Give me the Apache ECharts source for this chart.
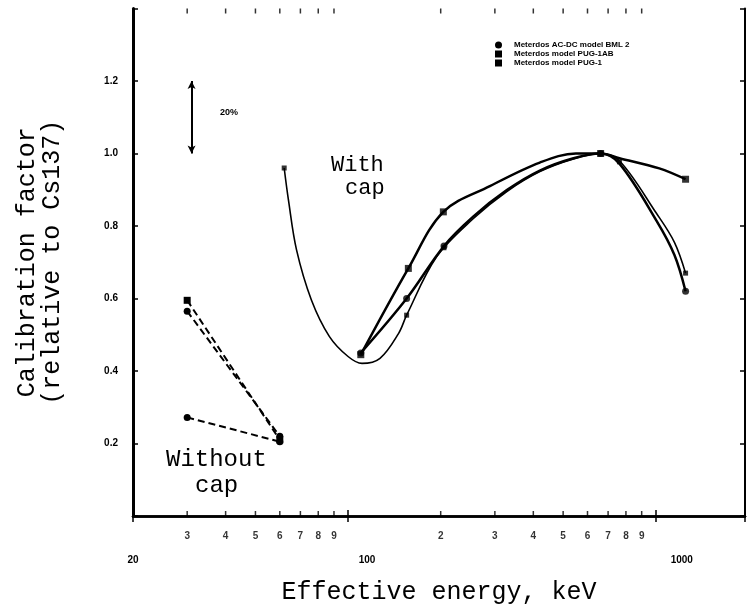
<!DOCTYPE html>
<html>
<head>
<meta charset="utf-8">
<script src="https://cdn.jsdelivr.net/npm/echarts@6/dist/echarts.min.js"></script>
<style>
html, body { margin: 0; padding: 0; background: #fff; }
#main { width: 748px; height: 610px; }
</style>
</head>
<body>
<div id="main"></div>
<script>
// energy (keV) / calibration factor pairs
var names = ['Meterdos AC-DC model BML 2', 'Meterdos model PUG-1AB', 'Meterdos model PUG-1'];

// with cap - measured points
var bmlPts = [[110, 0.45], [155, 0.60], [205, 0.745], [662, 1.0], [1250, 0.62]];
var pug1abPts = [[110, 0.445], [157, 0.683], [204, 0.839], [662, 1.0], [1250, 0.929]];
var pug1Pts = [[62, 0.96], [155, 0.554], [205, 0.74], [662, 1.0], [762, 0.977], [1250, 0.67]];

// with cap - drawn curves
var bmlCurve = [[110, 0.45], [155, 0.60], [205, 0.745], [255, 0.826], [328, 0.899], [420, 0.953],
	[540, 0.987], [662, 1.0], [762, 0.972], [1005, 0.815], [1150, 0.72], [1250, 0.62]];
var pug1abCurve = [[110, 0.445], [157, 0.683], [204, 0.839], [289, 0.91], [420, 0.975], [550, 1.0],
	[662, 1.0], [762, 0.987], [1027, 0.959], [1250, 0.929]];
var pug1Curve = [[62, 0.96], [64, 0.872], [68, 0.734], [76, 0.596], [87, 0.495], [100, 0.44], [111, 0.421],
	[127, 0.435], [146, 0.504], [155, 0.554], [194, 0.715], [255, 0.82], [328, 0.895], [420, 0.95],
	[540, 0.985], [662, 1.0], [762, 0.98], [1005, 0.835], [1150, 0.755], [1250, 0.67]];

// without cap
var bmlNoCap = [[30, 0.565], [60, 0.22]];
var pug1abNoCap = [[30, 0.595], [60, 0.21]];
var pug1NoCap = [[30, 0.272], [60, 0.205]];

// minor ticks of the log axis and their labels
var minorTicks = [30, 40, 50, 60, 70, 80, 90, 200, 300, 400, 500, 600, 700, 800, 900];
var minorLabels = ['3', '4', '5', '6', '7', '8', '9', '2', '3', '4', '5', '6', '7', '8', '9'];
var yTicks = [0.2, 0.4, 0.6, 0.8, 1.0, 1.2];

var chart = echarts.init(document.getElementById('main'));
var black = '#000';
var boldSmall = { color: black, fontSize: 10, fontWeight: 'bold', fontFamily: 'Liberation Sans' };
var mono = 'Liberation Mono';

function tickData(y) {
	return minorTicks.map(function (v, i) { return { value: [v, y], label: minorLabels[i] }; });
}

function curve(name, data, width) {
	return { name: name, type: 'line', data: data, smooth: 0.35, showSymbol: false,
		itemStyle: { color: black }, lineStyle: { color: black, width: width }, z: 3 };
}
function noCap(name, data, symbol) {
	return { name: name, type: 'line', data: data, symbol: symbol, symbolSize: 7, itemStyle: { color: black },
		lineStyle: { color: black, width: 2, type: [7, 4] } };
}
function marks(name, data, symbol, size) {
	return { name: name, type: 'scatter', data: data, symbol: symbol, symbolSize: size, itemStyle: { color: black }, z: 4 };
}

var series = [
	curve(names[0], bmlCurve, 2.5),
	curve(names[1], pug1abCurve, 2.5),
	curve(names[2], pug1Curve, 1.6),
	noCap(names[0], bmlNoCap, 'circle'),
	noCap(names[1], pug1abNoCap, 'rect'),
	noCap(names[2], pug1NoCap, 'circle'),
	marks(names[0], bmlPts, 'circle', 7),
	marks(names[1], pug1abPts, 'rect', 7),
	marks(names[2], pug1Pts, 'rect', 5),
	// 20% scale bar
	{ type: 'line', data: [], silent: true,
		markLine: { silent: true, symbol: ['arrow', 'arrow'], symbolSize: [6, 8],
			lineStyle: { color: black, width: 2, type: 'solid' }, label: { show: false },
			data: [[{ coord: [31, 1.0] }, { coord: [31, 1.2] }]] } },
	// minor ticks, bottom with labels
	{ type: 'scatter', data: tickData(0), silent: true, clip: false, symbol: 'rect', symbolSize: [1.5, 5],
		symbolOffset: [0, -2.5], itemStyle: { color: black },
		label: { show: true, position: 'bottom', distance: 15, formatter: function (p) { return p.data.label; },
			color: black, fontSize: 10, fontWeight: 'bold', fontFamily: 'Liberation Sans' } },
	// minor ticks, top
	{ type: 'scatter', data: tickData(1.4), silent: true, clip: false, symbol: 'rect', symbolSize: [1.5, 5],
		symbolOffset: [0, 2.5], itemStyle: { color: black } }
];

var option = {
	backgroundColor: '#fff',
	animation: false,
	color: [black],
	grid: { left: 133, right: 3, top: 8.5, bottom: 94, outerBoundsMode: 'none' },
	legend: {
		orient: 'vertical', left: 490, top: 36, itemGap: 1, itemWidth: 7, itemHeight: 7,
		textStyle: { color: black, fontSize: 8, fontWeight: 'bold', fontFamily: 'Liberation Sans', padding: [0, 0, 0, 7] },
		data: [{ name: names[0], icon: 'circle' }, { name: names[1], icon: 'rect' }, { name: names[2], icon: 'rect' }]
	},
	xAxis: [
		{ type: 'log', logBase: 10, min: 20, max: 1950, position: 'bottom',
			name: 'Effective energy, keV', nameLocation: 'middle', nameGap: 64,
			nameTextStyle: { color: black, fontSize: 25, fontFamily: mono },
			axisLine: { lineStyle: { color: black, width: 2.5 } },
			axisTick: { inside: true, length: 6, lineStyle: { color: black, width: 1.5 } },
			axisLabel: { showMaxLabel: false, margin: 39, formatter: function (v) {
					var n = Math.round(v);
					if (n === 100) return '{a|100}';
					if (n === 1000) return '{b|1000}';
					return '{c|' + n + '}';
				},
				rich: { a: { padding: [0, 0, 0, 38] }, b: { padding: [0, 0, 0, 52] }, c: {} },
				color: black, fontSize: 10, fontWeight: 'bold', fontFamily: 'Liberation Sans' },
			splitLine: { show: false } },
		{ type: 'log', logBase: 10, min: 20, max: 1950, position: 'top',
			axisLine: { lineStyle: { color: black, width: 2.5 } },
			axisTick: { inside: true, length: 6, lineStyle: { color: black, width: 1.5 } },
			axisLabel: { show: false }, splitLine: { show: false } }
	],
	yAxis: [
		{ type: 'value', min: 0, max: 1.4, interval: 0.2, position: 'left',
			name: 'Calibration factor\n(relative to Cs137)', nameLocation: 'middle', nameGap: 68, nameRotate: 90,
			nameTextStyle: { color: black, fontSize: 25, fontFamily: mono, lineHeight: 25 },
			axisLine: { show: true, lineStyle: { color: black, width: 3 } },
			axisTick: { inside: true, length: 5, lineStyle: { color: black, width: 1.5 } },
			axisLabel: Object.assign({ margin: 15, formatter: function (v) {
				return yTicks.indexOf(Math.round(v * 10) / 10) >= 0 ? v.toFixed(1) : '';
			} }, boldSmall),
			splitLine: { show: false } },
		{ type: 'value', min: 0, max: 1.4, interval: 0.2, position: 'right',
			axisLine: { show: true, lineStyle: { color: black, width: 2 } },
			axisTick: { inside: true, length: 5, lineStyle: { color: black, width: 1.5 } },
			axisLabel: { show: false }, splitLine: { show: false } }
	],
	graphic: [
		{ type: 'text', left: 220, top: 108, style: { text: '20%', fill: black, font: 'bold 9px Liberation Sans' } },
		{ type: 'text', left: 331, top: 154, style: { text: 'With', fill: black, font: '22px Liberation Mono' } },
		{ type: 'text', left: 345, top: 177, style: { text: 'cap', fill: black, font: '22px Liberation Mono' } },
		{ type: 'text', left: 166, top: 448, style: { text: 'Without', fill: black, font: '24px Liberation Mono' } },
		{ type: 'text', left: 195, top: 474, style: { text: 'cap', fill: black, font: '24px Liberation Mono' } }
	],
	series: series
};
chart.setOption(option);
</script>
</body>
</html>
